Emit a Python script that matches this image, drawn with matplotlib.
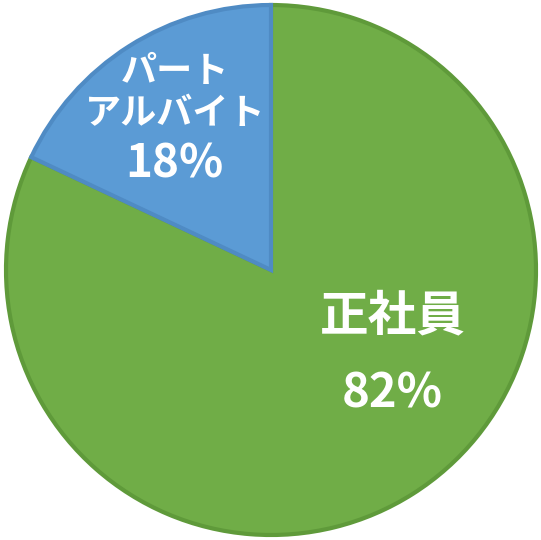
import matplotlib
matplotlib.use("Agg")
import matplotlib.pyplot as plt
import numpy as np

plt.rcParams['font.family'] = ['Noto Sans CJK JP', 'DejaVu Sans']

# data
labels = ['正社員', 'パート\nアルバイト']
shares = [82, 18]
colors = ['#70AD47', '#5B9BD5']
edges = ['#5F9A3A', '#4F8BC4']

fig = plt.figure(figsize=(5.41, 5.40), dpi=100)
ax = fig.add_axes([0, 0, 1, 1])

cx, cy, r = 271, 270, 265
wedges, _ = ax.pie(shares, colors=colors, startangle=90, counterclock=False,
                   center=(cx, cy), radius=r, frame=True,
                   wedgeprops=dict(linewidth=3))
for w, ec in zip(wedges, edges):
    w.set_edgecolor(ec)
ax.set_xlim(0, 541)
ax.set_ylim(0, 540)
ax.set_aspect('equal')
ax.axis('off')

# label positions (pixel coords from top-left)
name_pos = [(393, 316), (175, 72)]
pct_pos = [(392, 394), (174, 164)]
name_size = [35, 26]
pct_size = [34, 33]
line_gap = 42
for i in range(len(shares)):
    nx, ny = name_pos[i]
    for j, line in enumerate(labels[i].split('\n')):
        ax.text(nx, 540 - ny - j * line_gap, line, ha='center', va='center',
                color='white', fontsize=name_size[i], fontweight='bold')
    px, py = pct_pos[i]
    ax.text(px, 540 - py, '{}%'.format(shares[i]), ha='center', va='center',
            color='white', fontsize=pct_size[i], fontweight='bold')

plt.savefig('out.png', dpi=100)
